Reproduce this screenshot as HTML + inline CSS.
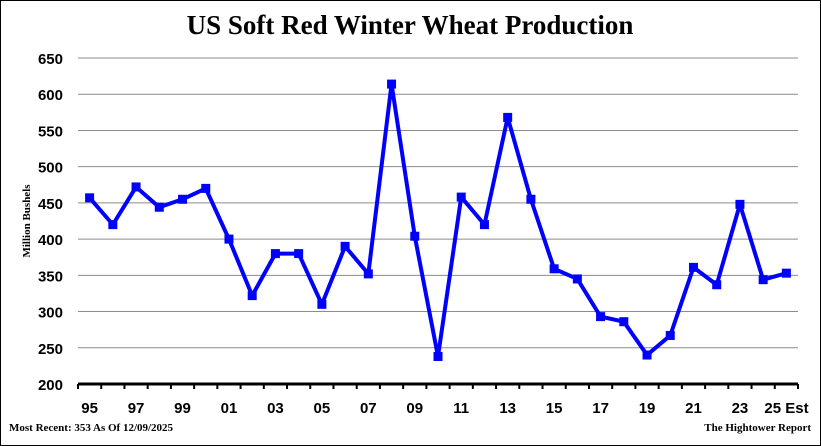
<!DOCTYPE html>
<html><head><meta charset="utf-8"><style>
html,body{margin:0;padding:0;background:#fff;}
svg{display:block;}
</style></head><body>
<svg id="chart" width="821" height="446" xmlns="http://www.w3.org/2000/svg">
<rect x="0.5" y="0.5" width="820" height="445" fill="#fff" stroke="#000" stroke-width="1"/>
<text x="410" y="34" text-anchor="middle" font-family="Liberation Serif, serif" font-weight="bold" font-size="27">US Soft Red Winter Wheat Production</text>
<text transform="translate(30,221) rotate(-90)" text-anchor="middle" font-family="Liberation Serif, serif" font-weight="bold" font-size="11">Million Bushels</text>
<g id="grid"></g><g id="yt"></g><g id="xt"></g><g id="series"></g>
<text x="9" y="431" font-family="Liberation Serif, serif" font-weight="bold" font-size="11">Most Recent: 353 As Of 12/09/2025</text>
<text x="811" y="431" text-anchor="end" font-family="Liberation Serif, serif" font-weight="bold" font-size="11">The Hightower Report</text>
</svg>
<script>
const categories=["95","96","97","98","99","00","01","02","03","04","05","06","07","08","09","10","11","12","13","14","15","16","17","18","19","20","21","22","23","24","25 Est"];
const values=[457,420,472,444,455,470,400,322,380,380,310,390,352,614,404,238,458,420,568,455,359,345,293,286,240,267,361,337,448,344,353];
const yTicks=[200,250,300,350,400,450,500,550,600,650];
const NS="http://www.w3.org/2000/svg";
const L=78,R=798,T=58,B=384,ymin=200,ymax=650;
const bw=(R-L)/categories.length;
const xs=i=>L+(i+0.5)*bw;
const ys=v=>B-(v-ymin)/(ymax-ymin)*(B-T);
function mk(tag,parent,attrs){const e=document.createElementNS(NS,tag);for(const k in attrs)e.setAttribute(k,attrs[k]);document.getElementById(parent).appendChild(e);return e;}
yTicks.forEach(v=>{
  if(v>ymin){const g=mk('line','grid',{x1:L,x2:R,y1:ys(v),y2:ys(v),stroke:'#8c8c8c','stroke-width':1});
  
  }
  const t=mk('text','yt',{x:63,y:ys(v)+6,'text-anchor':'end','font-family':'Liberation Sans, sans-serif','font-weight':'bold','font-size':15});
  t.textContent=v;
  
  
});
const ax=mk('line','xt',{x1:L,x2:R,y1:B,y2:B,stroke:'#000','stroke-width':3});


for(let i=0;i<=categories.length;i++){
  const tk=mk('line','xt',{x1:L+i*bw,x2:L+i*bw,y1:B,y2:B+5,stroke:'#000','stroke-width':2});
  
  
}
categories.forEach((c,i)=>{
  if(i%2) return;
  const long=c.length>2;
  const t=mk('text','xt',{x:long?xs(i)-22:xs(i),y:413,'text-anchor':long?'start':'middle','font-family':'Liberation Sans, sans-serif','font-weight':'bold','font-size':15});
  t.textContent=c;
  
  
});
const pts=values.map((v,i)=>xs(i)+','+ys(v)).join(' ');
const pl=mk('polyline','series',{points:pts,fill:'none',stroke:'#0000ff','stroke-width':4,'stroke-linejoin':'round'});


values.forEach((v,i)=>{
  const m=mk('rect','series',{x:xs(i)-4.5,y:ys(v)-4.5,width:9,height:9,fill:'#0000ff'});
  
  
});
</script>
</body></html>
